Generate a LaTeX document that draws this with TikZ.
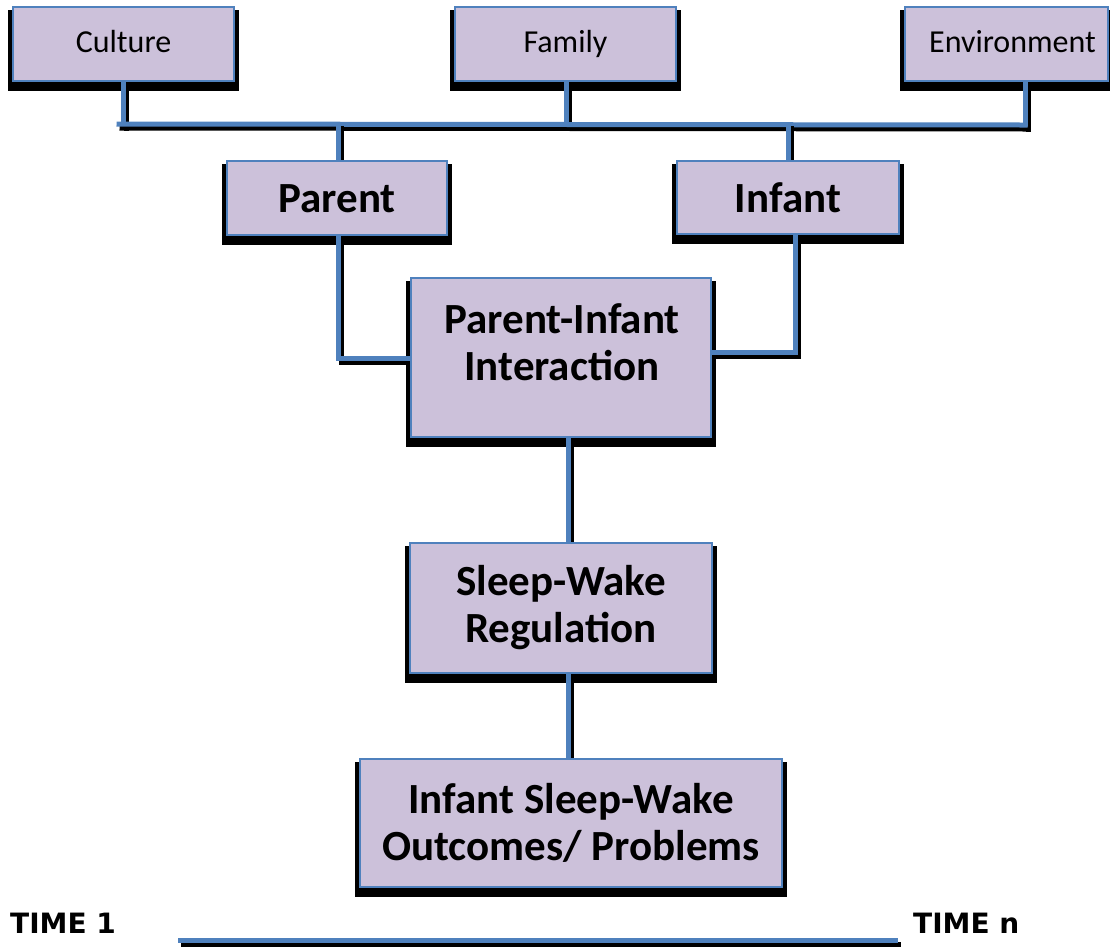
\documentclass[tikz,border=0pt]{standalone}
\usepackage{fontspec}
\setmainfont{Carlito}
\newfontfamily\timefont{DejaVu Sans}
\usetikzlibrary{backgrounds,calc}
\definecolor{boxfill}{HTML}{CCC1DA}
\definecolor{edgeblue}{HTML}{4F81BD}
\begin{document}
\begin{tikzpicture}[x=1pt,y=-1pt,
  box/.style={draw=edgeblue, line width=2.5pt, fill=boxfill, inner sep=0pt, align=center},
  small/.style={box, font=\fontsize{32}{38}\selectfont, text height=22pt, text depth=6pt},
  big/.style={box, font=\bfseries\fontsize{43}{47}\selectfont},
  bigtext/.style={inner sep=0pt, align=center, font=\bfseries\fontsize{43}{47}\selectfont},
  link/.style={draw=edgeblue, line width=5pt, line cap=rect,
    preaction={draw=black, line width=5pt, line cap=rect, transform canvas={shift={(3,4)}}}},
  timelbl/.style={inner sep=0pt, anchor=west, font=\timefont\bfseries\fontsize{28}{34}\selectfont},
]
\useasboundingbox (0,0) rectangle (1110,946);

% top row: context factors
\node[small, minimum width=221, minimum height=74] (cul) at (123.5,44) {Culture};
\node[small, minimum width=221, minimum height=74] (fam) at (565.5,44) {Family};
\node[small, minimum width=203, minimum height=74] (env) at (1006.5,44) {\hspace*{12pt}Environment};

% second row
\node[big, minimum width=220, minimum height=74, text height=33pt, text depth=4pt] (par) at (337,198) {Parent};
\node[big, minimum width=222, minimum height=73, text height=33pt, text depth=4pt] (inf) at (788,197.5) {Infant};

% central chain
\node[box, minimum width=300, minimum height=159] (pii) at (561,357.5) {};
\node[bigtext] (piit) at (562,342) {Parent-Infant\\Interaction};
\node[big, minimum width=302, minimum height=130] (swr) at (561,608) {Sleep-Wake\\Regulation};
\node[big, minimum width=422, minimum height=128] (out) at (571,823) {Infant Sleep-Wake\\Outcomes/ Problems};

% time axis labels
\node[timelbl] (t1) at (10,923) {TIME 1};
\node[timelbl] (tn) at (913,923) {TIME n};
\coordinate (lineA) at (180,940);
\coordinate (lineB) at (895,940);

% bus joining the context factors
\coordinate (busL) at (119,124);
\coordinate (busR) at (1025,125);

\begin{scope}[on background layer]
  % drop shadows of the boxes
  \foreach \n in {cul,fam,env,par,inf,pii,swr,out}
    \fill[black] ([shift={(-4,4)}]\n.north west) rectangle ([shift={(4,9)}]\n.south east);
  % connectors
  \draw[link] (cul.south) -- (cul.south |- busL);
  \draw[link] ([xshift=1]fam.south) -- ([xshift=1]fam.south |- busL);
  \draw[link] ([xshift=18.5]env.south) -- ([xshift=18.5]env.south |- busR);
  \draw[link] (busL) -- (busR);
  \draw[link] ([xshift=1]par.north) -- ([xshift=1]par.north |- busL);
  \draw[link] (inf.north) -- (inf.north |- busL);
  \draw[link] ([xshift=1]par.south) |- ([yshift=-1]pii.west);
  \draw[link] ([xshift=7]inf.south) |- ([yshift=5]pii.east);
  \draw[link] ([xshift=7]pii.south) -- ([xshift=7]pii.south |- swr.north);
  \draw[link] ([xshift=7]swr.south) -- ([xshift=7]swr.south |- out.north);
  \draw[link] (lineA) -- (lineB);
\end{scope}
\end{tikzpicture}
\end{document}
